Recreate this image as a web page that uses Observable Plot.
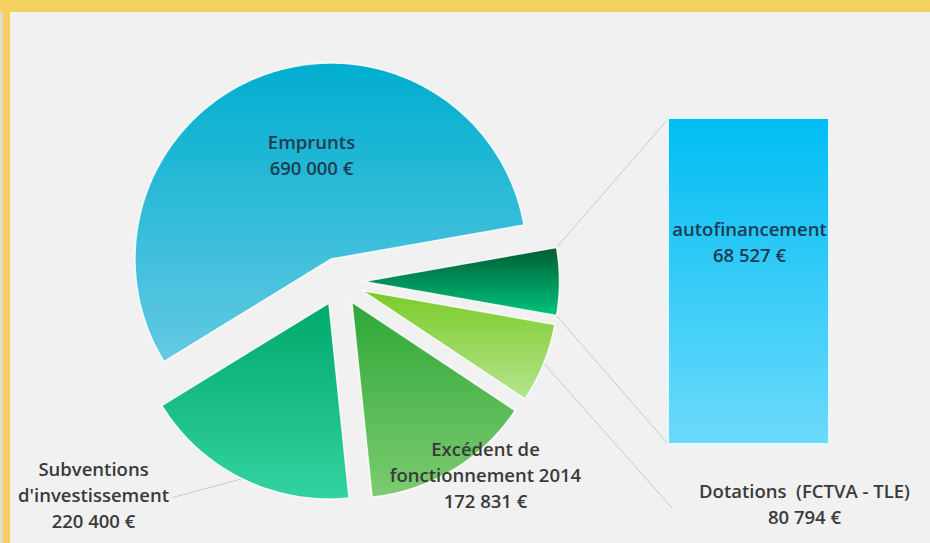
<!DOCTYPE html>
<html><head><meta charset="utf-8">
<script src="https://cdn.jsdelivr.net/npm/d3@7"></script>
<script src="https://cdn.jsdelivr.net/npm/@observablehq/plot@0.6"></script>
<style>
html,body{margin:0;padding:0;background:#f1f1f1;overflow:hidden;}
#frame{position:relative;width:930px;height:543px;overflow:hidden;background:
 linear-gradient(#f4d060,#f4d060) 0 0/930px 12px no-repeat,
 linear-gradient(#f4d060,#f4d060) 3px 0/7px 543px no-repeat,
 linear-gradient(#e4dcc8,#e4dcc8) 0 0/3px 543px no-repeat,
 #f1f1f1;}
#frame svg{position:absolute;left:0;top:0;}
</style></head><body><div id="frame"></div>
<script>
// ---- data (pie order, clockwise) ----
const categories = ["autofinancement", "Dotations (FCTVA - TLE)", "Excédent de fonctionnement 2014", "Subventions d'investissement", "Emprunts"];
const values = [68527, 80794, 172831, 220400, 690000];
const valueLabels = ["68 527 €", "80 794 €", "172 831 €", "220 400 €", "690 000 €"];
const nameLines = [["autofinancement"], ["Dotations  (FCTVA - TLE)"], ["Excédent de", "fonctionnement 2014"], ["Subventions", "d'investissement"], ["Emprunts"]];
const barCategories = ["autofinancement"];

// ---- styles ----
const topColors = ["#005c34", "#7acb28", "#2ea737", "#00a86a", "#00aecf"];
const bottomColors = ["#00c47c", "#b6e48f", "#7ccc70", "#33d3a1", "#64c9e3"];
const textColors = ["#1b3b55", "#3a3a3a", "#3a3a3a", "#3a3a3a", "#1e3c52"];
const barTop = "#00bdf3", barBottom = "#6cdafb";

// ---- layout ----
const W = 930, H = 543;
const cx = 339, cy = 281, r = 196, explode = 24, startDeg = 80;
const bar = {x1: 668, x2: 829, top: 118, bottom: 444};
const fs = 18.5, lh = 26;
const labelAnchor = [ // x center, first baseline
  {x: 749, y: 235}, {x: 804, y: 497}, {x: 485, y: 455}, {x: 93, y: 475}, {x: 311, y: 148}
];
const leaderEnds = {1: {x: 672, y: 508}, 3: {x: 172, y: 497}};

const pie = d3.pie().sort(null).value(d => d).startAngle(startDeg * Math.PI / 180).endAngle((startDeg + 360) * Math.PI / 180);
const arcs = pie(values);

const pt = (ox, oy, a, rad) => ({x: ox + rad * Math.sin(a), y: oy - rad * Math.cos(a)});
const slices = arcs.map((a, i) => {
  const mid = (a.startAngle + a.endAngle) / 2;
  const o = pt(cx, cy, mid, explode);
  const pts = [{x: o.x, y: o.y}];
  const n = Math.max(4, Math.ceil((a.endAngle - a.startAngle) * 180 / Math.PI));
  for (let k = 0; k <= n; k++) pts.push(pt(o.x, o.y, a.startAngle + (a.endAngle - a.startAngle) * k / n, r));
  pts.push({x: o.x, y: o.y});
  return {i, o, mid, a, pts};
});

// bar stacked from values of bar categories
const barTotal = d3.sum(barCategories, c => values[categories.indexOf(c)]);
let acc = 0;
const barRows = barCategories.map(c => {
  const v = values[categories.indexOf(c)];
  const y2 = bar.bottom - (acc / barTotal) * (bar.bottom - bar.top);
  acc += v;
  const y1 = bar.bottom - (acc / barTotal) * (bar.bottom - bar.top);
  return {c, x1: bar.x1, x2: bar.x2, y1, y2};
});

// connector lines from the "other" slice to bar
const sBar = slices[0];
const cornerTop = pt(sBar.o.x, sBar.o.y, sBar.a.startAngle, r);
const cornerBot = pt(sBar.o.x, sBar.o.y, sBar.a.endAngle, r);
const links = [
  {x1: cornerTop.x, y1: cornerTop.y, x2: bar.x1, y2: bar.top},
  {x1: cornerBot.x, y1: cornerBot.y, x2: bar.x1, y2: bar.bottom}
];
Object.entries(leaderEnds).forEach(([k, e]) => {
  const s = slices[+k];
  const p = pt(s.o.x, s.o.y, s.mid, r);
  links.push({x1: p.x, y1: p.y, x2: e.x, y2: e.y});
});

// labels
const labelRows = [];
categories.forEach((c, i) => {
  const lines = [...nameLines[i], valueLabels[i]];
  lines.forEach((t, j) => labelRows.push({t, x: labelAnchor[i].x, y: labelAnchor[i].y + j * lh - 0.32 * fs, color: textColors[i]}));
});

const marks = [
  Plot.link(links, {x1: "x1", y1: "y1", x2: "x2", y2: "y2", stroke: "#c9c9c9", strokeWidth: 1}),
  ...slices.map(s => Plot.line(s.pts, {x: "x", y: "y", curve: "linear", fill: `url(#grad${s.i})`, stroke: "#ffffff", strokeWidth: 1.5, strokeOpacity: 0.85})),
  Plot.rect(barRows, {x1: "x1", x2: "x2", y1: "y1", y2: "y2", fill: "url(#gradBar)", stroke: "#e6f8ff", strokeWidth: 2}),
  Plot.text(labelRows, {x: "x", y: "y", text: "t", fill: d => d.color, textAnchor: "middle", lineAnchor: "middle", fontSize: fs, fontWeight: 600, fontFamily: "Open Sans"})
];

const svg = Plot.plot({
  width: W, height: H, margin: 0,
  x: {domain: [0, W], axis: null},
  y: {domain: [0, H], reverse: true, axis: null},
  style: {background: "transparent", fontFamily: "Open Sans"},
  marks
});

const defs = d3.select(svg).insert("defs", ":first-child");
const addGrad = (id, c0, c1) => {
  const g = defs.append("linearGradient").attr("id", id).attr("x1", 0).attr("y1", 0).attr("x2", 0).attr("y2", 1);
  g.append("stop").attr("offset", "0%").attr("stop-color", c0);
  g.append("stop").attr("offset", "100%").attr("stop-color", c1);
};
slices.forEach(s => addGrad(`grad${s.i}`, topColors[s.i], bottomColors[s.i]));
addGrad("gradBar", barTop, barBottom);

document.getElementById("frame").appendChild(svg);
</script>
</body></html>
